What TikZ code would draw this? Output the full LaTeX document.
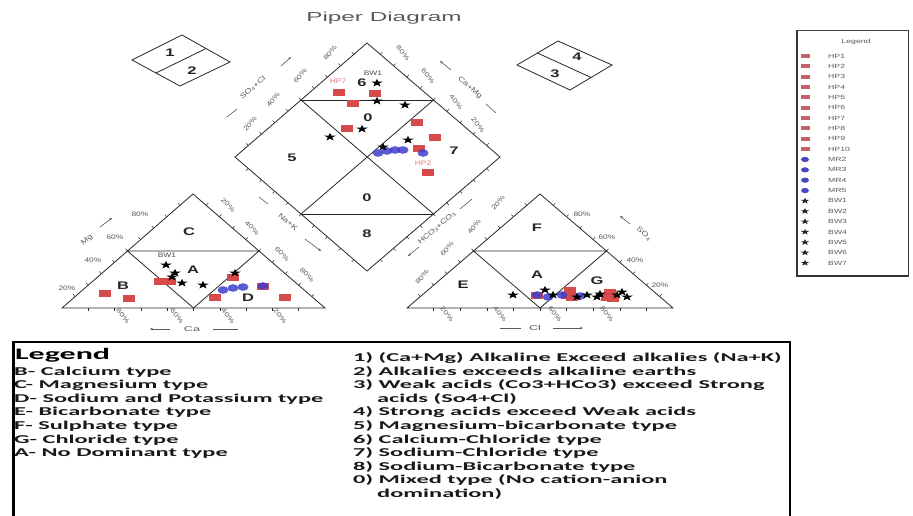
\documentclass[tikz,border=0pt]{standalone}
\usepackage{fontspec}
\setmainfont{Liberation Sans}
\newfontfamily\titlefont{Liberation Sans}[FakeStretch=1.87]
\newfontfamily\regfont{Liberation Sans}[FakeStretch=1.5]
\newfontfamily\tickfont{Liberation Sans}[FakeStretch=1.3]
\newfontfamily\axisfont{Liberation Sans}[FakeStretch=1.8]
\newfontfamily\keyfont{Liberation Sans}[FakeStretch=1.45]
\newfontfamily\legfont{Carlito}[FakeStretch=2.03]
\newfontfamily\leghfont{Carlito}[FakeStretch=2.0]
\usetikzlibrary{calc,arrows.meta}
\definecolor{hpred}{RGB}{214,74,74}
\definecolor{mrblue}{RGB}{62,62,205}
\definecolor{keyred}{RGB}{200,96,106}
\definecolor{keyblue}{RGB}{72,72,190}
\definecolor{txtgray}{RGB}{90,90,90}
\definecolor{lngray}{RGB}{40,40,40}
\newcommand\tickedge[2]{\foreach \tv in {0.1,0.2,0.3,0.4,0.5,0.6,0.7,0.8,0.9}{\coordinate (tkp) at ($(#1)!\tv!(#2)$); \draw[tk] (tkp) -- ($(tkp)!3pt!90:(#2)$);}}
\begin{document}
\begin{tikzpicture}[x=1pt,y=-1pt,
 ln/.style={draw=lngray,line width=0.8pt},
 tk/.style={draw=lngray,line width=0.5pt},
 reg/.style={font=\regfont\bfseries\fontsize{11}{11}\selectfont,inner sep=0,text=black!85},
 pct/.style={font=\tickfont\fontsize{6.5}{6.5}\selectfont,inner sep=0,text=txtgray},
 axl/.style={font=\axisfont\fontsize{7}{7}\selectfont,inner sep=0,text=txtgray},
 raxl/.style={font=\tickfont\fontsize{7}{7}\selectfont,inner sep=0,text=txtgray},
 arr/.style={draw=txtgray,line width=0.6pt,-{Stealth[length=3pt,width=2.6pt]}},
 plainl/.style={draw=txtgray,line width=0.6pt},
 ptl/.style={font=\tickfont\fontsize{6.5}{6.5}\selectfont,inner sep=0},
 key/.style={font=\keyfont\fontsize{6}{6}\selectfont,inner sep=0,text=txtgray,anchor=west},
 leg/.style={font=\legfont\bfseries\fontsize{12}{12}\selectfont,inner sep=0,anchor=base west,text=black!90},
 hp/.pic={\fill[hpred] (-6,-3.5) rectangle (6,3.5);},
 mr/.pic={\fill[mrblue,opacity=0.85] (0,0) ellipse [x radius=5.5pt,y radius=3.8pt];},
 bw/.pic={\fill[black,yscale=0.7] (-90:6) -- (-54:2.4) -- (-18:6) -- (18:2.4) -- (54:6) -- (90:2.4) -- (126:6) -- (162:2.4) -- (198:6) -- (234:2.4) -- cycle;},
 khp/.pic={\fill[keyred] (-4.5,-2) rectangle (4.5,2);},
 kmr/.pic={\fill[keyblue] (0,0) ellipse [x radius=4pt,y radius=2.6pt];},
 kbw/.pic={\fill[black!85,scale=0.75,yscale=0.7] (-90:6) -- (-54:2.4) -- (-18:6) -- (18:2.4) -- (54:6) -- (90:2.4) -- (126:6) -- (162:2.4) -- (198:6) -- (234:2.4) -- cycle;}
]
\useasboundingbox (0,0) rectangle (913,515);
\fill[white] (0,0) rectangle (913,515);

% title
\node[font=\titlefont\fontsize{13}{13}\selectfont,text=txtgray,inner sep=0] (title) at (384,18) {Piper Diagram};

% corner points
\coordinate (LL) at (62,308); \coordinate (LR) at (325,308); \coordinate (LT) at (193,194);
\coordinate (RL) at (407,308); \coordinate (RR) at (673,308); \coordinate (RT) at (540,194);
\coordinate (DT) at (367,43); \coordinate (DR) at (500,157); \coordinate (DB) at (367,271); \coordinate (DL) at (235,157);

% left triangle
\draw[ln] (LL) -- (LT) -- (LR) -- cycle;
\draw[ln] ($(LL)!0.5!(LT)$) -- ($(LT)!0.5!(LR)$) -- ($(LL)!0.5!(LR)$) -- cycle;
% right triangle
\draw[ln] (RL) -- (RT) -- (RR) -- cycle;
\draw[ln] ($(RL)!0.5!(RT)$) -- ($(RT)!0.5!(RR)$) -- ($(RL)!0.5!(RR)$) -- cycle;
% diamond
\draw[ln] (DT) -- (DR) -- (DB) -- (DL) -- cycle;
\coordinate (m1) at ($(DL)!0.5!(DT)$); \coordinate (m2) at ($(DT)!0.5!(DR)$);
\coordinate (m3) at ($(DR)!0.5!(DB)$); \coordinate (m4) at ($(DB)!0.5!(DL)$);
\draw[ln] (m1) -- (m2); \draw[ln] (m4) -- (m3);
\draw[ln] (m1) -- (m3); \draw[ln] (m2) -- (m4);

% ticks
\tickedge{LL}{LT} \tickedge{LT}{LR} \tickedge{LR}{LL}
\tickedge{RL}{RT} \tickedge{RT}{RR} \tickedge{RR}{RL}
\tickedge{DT}{DR} \tickedge{DR}{DB} \tickedge{DB}{DL} \tickedge{DL}{DT}

% small diamonds
\coordinate (sa1) at (132,60); \coordinate (sa2) at (182,35); \coordinate (sa3) at (230,62); \coordinate (sa4) at (180,86);
\draw[ln] (sa1) -- (sa2) -- (sa3) -- (sa4) -- cycle;
\draw[ln] ($(sa1)!0.5!(sa4)$) -- ($(sa2)!0.5!(sa3)$);
\node[reg] (n1) at (170,53) {1};
\node[reg] (n2) at (192,71) {2};
\coordinate (sb1) at (517,65); \coordinate (sb2) at (558,41); \coordinate (sb3) at (612,65); \coordinate (sb4) at (570,90);
\draw[ln] (sb1) -- (sb2) -- (sb3) -- (sb4) -- cycle;
\draw[ln] ($(sb1)!0.5!(sb2)$) -- ($(sb4)!0.5!(sb3)$);
\node[reg] (n4) at (577,57) {4};
\node[reg] (n3) at (555,74) {3};

% region labels
\node[reg] (rC) at (189,232) {C};
\node[reg] (rA1) at (193,270) {A};
\node[reg] (rB) at (123,286) {B};
\node[reg] (rD) at (248,298) {D};
\node[reg] (rF) at (537,228) {F};
\node[reg] (rA2) at (537,275) {A};
\node[reg] (rE) at (463,285) {E};
\node[reg] (rG) at (597,281) {G};
\node[reg] (r6) at (362,83) {6};
\node[reg] (r0a) at (368,118) {0};
\node[reg] (r5) at (292,158) {5};
\node[reg] (r7) at (454,151) {7};
\node[reg] (r0b) at (367,198) {0};
\node[reg] (r8) at (367,234) {8};

% percent labels
\foreach \p/\x/\y in {80/140/214,60/115/237,40/93/260,20/67/288} \node[pct] (pa\p) at (\x,\y) {\p\%};
\foreach \p/\x/\y in {20/228/205,40/252/228,60/282/254,80/307/275} \node[pct,rotate=-45] (pb\p) at (\x,\y) {\p\%};
\foreach \p/\x/\y in {80/123/316,60/177/316,40/228/316,20/280/316} \node[pct,rotate=-50] (pc\p) at (\x,\y) {\p\%};
\foreach \p/\x/\y in {20/498/203,40/474/227,60/447/249,80/422/277} \node[pct,rotate=50] (pd\p) at (\x,\y) {\p\%};
\foreach \p/\x/\y in {80/582/214,60/607/237,40/635/260,20/660/285} \node[pct] (pe\p) at (\x,\y) {\p\%};
\foreach \p/\x/\y in {20/447/314,40/500/314,60/555/314,80/607/314} \node[pct,rotate=-50] (pf\p) at (\x,\y) {\p\%};
\foreach \p/\x/\y in {80/330/53,60/300/76,40/273/100,20/250/124} \node[pct,rotate=50] (pg\p) at (\x,\y) {\p\%};
\foreach \p/\x/\y in {80/403/53,60/428/76,40/456/102,20/478/125} \node[pct,rotate=-50] (ph\p) at (\x,\y) {\p\%};

% axis labels
\node[raxl,rotate=41] (axMg) at (87,240) {Mg};
\coordinate (mga) at (100,227); \coordinate (mgb) at (112,218);
\draw[arr] (mga) -- (mgb);
\node[axl] (axCa) at (192,329) {Ca};
\coordinate (caa) at (170,329); \coordinate (cab) at (150,329); \coordinate (cac) at (213,329); \coordinate (cad) at (238,329);
\draw[arr] (caa) -- (cab); \draw[plainl] (cac) -- (cad);
\node[raxl,rotate=-41] (axNa) at (288,222) {Na+K};
\coordinate (naa) at (259,197); \coordinate (nab) at (268,204); \coordinate (nac) at (305,239); \coordinate (nad) at (321,251);
\draw[plainl] (naa) -- (nab); \draw[arr] (nac) -- (nad);
\node[raxl,rotate=41] (axHC) at (437,228) {HCO\textsubscript{3}+CO\textsubscript{3}};
\coordinate (hca) at (419,247); \coordinate (hcb) at (408,256); \coordinate (hcc) at (460,209); \coordinate (hcd) at (472,199);
\draw[arr] (hca) -- (hcb); \draw[plainl] (hcc) -- (hcd);
\node[raxl,rotate=-41] (axSO) at (644,234) {SO\textsubscript{4}};
\coordinate (soa) at (630,224); \coordinate (sob) at (620,216);
\draw[arr] (soa) -- (sob);
\node[axl] (axCl) at (535,328) {Cl};
\coordinate (cla) at (500,328); \coordinate (clb) at (521,328); \coordinate (clc) at (553,328); \coordinate (cld) at (583,328);
\draw[plainl] (cla) -- (clb); \draw[arr] (clc) -- (cld);
\node[raxl,rotate=41] (axSC) at (253,88) {SO\textsubscript{4}+Cl};
\coordinate (sca) at (227,117); \coordinate (scb) at (237,109); \coordinate (scc) at (281,66); \coordinate (scd) at (291,57);
\draw[plainl] (sca) -- (scb); \draw[arr] (scc) -- (scd);
\node[raxl,rotate=-41] (axCM) at (470,88) {Ca+Mg};
\coordinate (cma) at (451,70); \coordinate (cmb) at (440,61); \coordinate (cmc) at (486,104); \coordinate (cmd) at (496,113);
\draw[arr] (cma) -- (cmb); \draw[plainl] (cmc) -- (cmd);

% data points
\foreach \x/\y in {339/92,375/93,353/103,347/128,417/122,435/137,419/148,428/172,160/281,170/281,105/293,129/298,233/277,215/297,285/297,263/286,537/295,570/290,572/297,567/295,610/292,613/298,607/297}
  \pic at (\x,\y) {hp};
\foreach \x/\y in {378/153,387/151,395/150,403/150,423/153,223/290,233/288,243/287,263/286,537/295,548/297,562/295,580/296}
  \pic at (\x,\y) {mr};
\foreach \x/\y in {377/83,377/101,405/105,362/129,330/137,408/140,383/147,166/265,175/273,172/277,182/283,203/285,235/273,513/295,545/290,553/295,577/297,587/295,597/297,600/294,622/292,627/297,617/295}
  \pic at (\x,\y) {bw};
\node[ptl,text=black!70] (bw1a) at (373,73) {BW1};
\node[ptl,text=hpred!75] (hp7l) at (338,81) {HP7};
\node[ptl,text=hpred!75] (hp2l) at (423,163) {HP2};
\node[ptl,text=black!70] (bw1b) at (167,255) {BW1};

% key box
\draw[line width=0.7pt,black!75] (796,30) rectangle (908,276);
\draw[line width=1.6pt,black!80] (797,30) -- (797,276) -- (908,276);
\node[font=\keyfont\fontsize{6}{6}\selectfont,inner sep=0,text=txtgray] (keyt) at (856,42) {Legend};
\foreach \n [count=\i from 0] in {HP1,HP2,HP3,HP4,HP5,HP6,HP7,HP8,HP9,HP10}{
  \pic at (805,{56+10.35*\i}) {khp};
  \node[key] (k\n) at (828,{56+10.35*\i}) {\n};}
\foreach \n [count=\i from 10] in {MR2,MR3,MR4,MR5}{
  \pic at (805,{56+10.35*\i}) {kmr};
  \node[key] (k\n) at (828,{56+10.35*\i}) {\n};}
\foreach \n [count=\i from 14] in {BW1,BW2,BW3,BW4,BW5,BW6,BW7}{
  \pic at (805,{56+10.35*\i}) {kbw};
  \node[key] (k\n) at (828,{56+10.35*\i}) {\n};}

% bottom legend
\node[font=\leghfont\bfseries\fontsize{16}{16}\selectfont,inner sep=0,anchor=base west] (legh) at (15,359) {Legend};
\node[leg] (la) at (14,375) {B- Calcium type};
\node[leg] (lb) at (14,388.6) {C- Magnesium type};
\node[leg] (lc) at (14,402.2) {D- Sodium and Potassium type};
\node[leg] (ld) at (14,415.8) {E- Bicarbonate type};
\node[leg] (le) at (14,429.4) {F- Sulphate type};
\node[leg] (lf) at (14,443) {G- Chloride type};
\node[leg] (lg) at (14,456.6) {A- No Dominant type};
\node[leg] (q1) at (353,361) {1) (Ca+Mg) Alkaline Exceed alkalies (Na+K)};
\node[leg] (q2) at (353,375) {2) Alkalies exceeds alkaline earths};
\node[leg] (q3) at (353,388.6) {3) Weak acids (Co3+HCo3) exceed Strong};
\node[leg] (q3b) at (377,402.2) {acids (So4+Cl)};
\node[leg] (q4) at (353,415.8) {4) Strong acids exceed Weak acids};
\node[leg] (q5) at (353,429.4) {5) Magnesium-bicarbonate type};
\node[leg] (q6) at (353,443) {6) Calcium-Chloride type};
\node[leg] (q7) at (353,456.6) {7) Sodium-Chloride type};
\node[leg] (q8) at (353,470.2) {8) Sodium-Bicarbonate type};
\node[leg] (q0) at (353,483.8) {0) Mixed type (No cation-anion};
\node[leg] (q0b) at (377,497.4) {domination)};
\draw[line width=2pt,black] (13,520) -- (13,342) -- (790,342) -- (790,520);
\draw[line width=3pt,black] (13,342) -- (13,520);
\end{tikzpicture}
\end{document}
